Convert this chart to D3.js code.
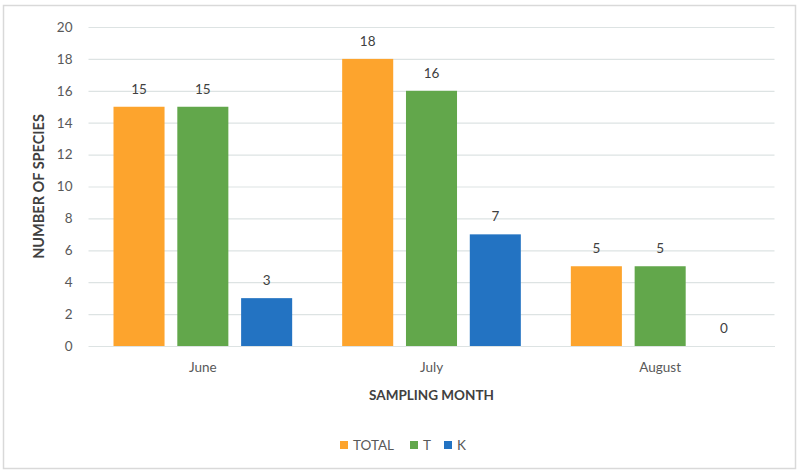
<!DOCTYPE html>
<html><head><meta charset="utf-8">
<script src="https://cdn.jsdelivr.net/npm/d3@7"></script>
<style>body{margin:0;background:#fff;}svg{display:block;}</style>
</head><body>
<svg id="c" width="801" height="472"></svg>
<script>
const categories = ["June", "July", "August"];
const seriesNames = ["TOTAL", "T", "K"];
const totalValues = [15, 18, 5];
const tValues = [15, 16, 5];
const kValues = [3, 7, 0];
const yTicks = [0, 2, 4, 6, 8, 10, 12, 14, 16, 18, 20];
const colors = ["#FDA42D", "#62A74B", "#2373C2"];

(function () {
const svg = d3.select("#c");
const font = "Lato, 'Open Sans', sans-serif";
svg.append("rect").attr("x", 3.5).attr("y", 5.5).attr("width", 792).attr("height", 463)
  .attr("fill", "#fff").attr("stroke", "#d9d9d9").attr("stroke-width", 1.5);

const pLeft = 88.5, pRight = 774.5, pTop = 27, pBottom = 346;
const x = d3.scaleBand().domain(categories).range([pLeft, pRight]);
const xs = d3.scaleBand().domain(seriesNames).range([25, x.bandwidth() - 25]).paddingInner(0.2);
const y = d3.scaleLinear().domain([0, 20]).range([pBottom, pTop]);

const g = svg.append("g");
const yAxis = d3.axisLeft(y).tickValues(yTicks).tickSize(-(pRight - pLeft)).tickPadding(16);
const ya = g.append("g").attr("transform", `translate(${pLeft},0)`).call(yAxis);
ya.select(".domain").remove();
ya.selectAll(".tick line").attr("stroke", "#dde3e3").attr("stroke-width", 1.2);
ya.selectAll(".tick text").attr("fill", "#595959").attr("font-family", font).attr("font-size", 13.5);

const xAxis = d3.axisBottom(x).tickSize(0).tickPadding(16);
const xa = g.append("g").attr("transform", `translate(0,${pBottom})`).call(xAxis);
xa.select(".domain").attr("stroke", "#dde3e3").attr("stroke-width", 1.2);
xa.selectAll(".tick text").attr("fill", "#595959").attr("font-family", font).attr("font-size", 13.5);

const series = [totalValues, tValues, kValues];
const data = [];
categories.forEach((c, i) => seriesNames.forEach((s, j) => data.push({c, s, v: series[j][i], j})));

g.selectAll("rect.bar").data(data).join("rect").attr("class", "bar")
  .attr("x", d => x(d.c) + xs(d.s)).attr("width", xs.bandwidth())
  .attr("y", d => y(d.v)).attr("height", d => y(0) - y(d.v))
  .attr("fill", d => colors[d.j]);

g.selectAll("text.val").data(data).join("text").attr("class", "val")
  .attr("x", d => x(d.c) + xs(d.s) + xs.bandwidth() / 2)
  .attr("y", d => y(d.v) - 13)
  .attr("text-anchor", "middle").attr("fill", "#404040")
  .attr("font-family", font).attr("font-size", 13.5).text(d => d.v);

svg.append("text").attr("transform", `translate(44,${(pTop + pBottom) / 2}) rotate(-90)`)
  .attr("text-anchor", "middle").attr("font-family", font).attr("font-size", 14.5)
  .attr("font-weight", "bold").attr("fill", "#404040").text("NUMBER OF SPECIES");
svg.append("text").attr("x", (pLeft + pRight) / 2).attr("y", 400)
  .attr("text-anchor", "middle").attr("font-family", font).attr("font-size", 13.5)
  .attr("font-weight", "bold").attr("fill", "#404040").text("SAMPLING MONTH");

const legendX = [340, 410, 444];
const lg = svg.append("g");
seriesNames.forEach((s, j) => {
  lg.append("rect").attr("x", legendX[j]).attr("y", 441).attr("width", 8).attr("height", 8).attr("fill", colors[j]);
  lg.append("text").attr("x", legendX[j] + 13).attr("y", 450).attr("font-family", font)
    .attr("font-size", 13.5).attr("fill", "#595959").text(s);
});
})();
</script>
</body></html>
